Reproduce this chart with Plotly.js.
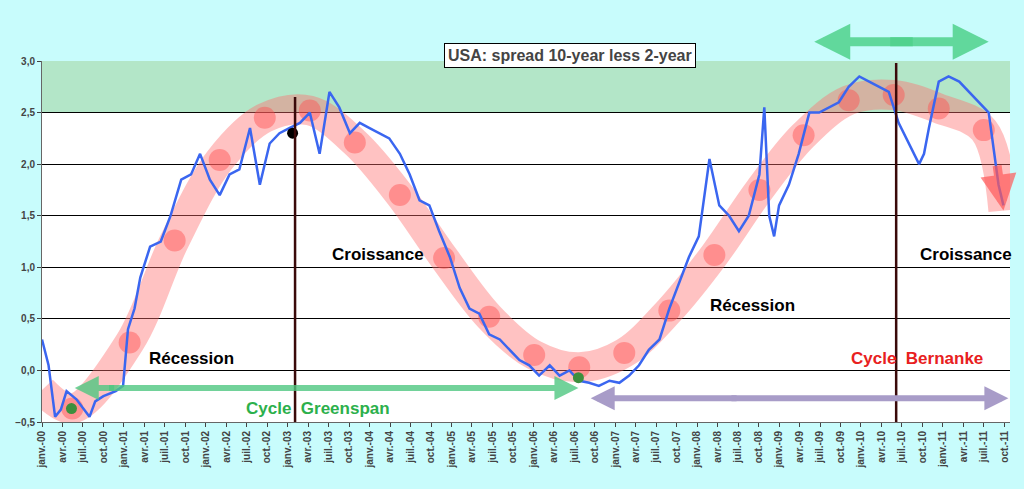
<!DOCTYPE html>
<html><head><meta charset="utf-8">
<script src="https://cdn.plot.ly/plotly-3.0.1.min.js"></script>
<style>body{margin:0;background:#c8fcfc}#chart{width:1024px;height:489px}</style>
</head><body><div id="chart"></div>
<script>
// spread 10y-2y (decimal year, %)
var spreadYear = [2000.0,2000.08,2000.16,2000.23,2000.3,2000.42,2000.58,2000.65,2000.75,2000.9,2000.99,2001.05,2001.13,2001.2,2001.32,2001.45,2001.57,2001.7,2001.82,2001.93,2002.05,2002.17,2002.29,2002.41,2002.54,2002.66,2002.78,2002.9,2003.02,2003.15,2003.27,2003.39,2003.51,2003.63,2003.76,2003.88,2004.0,2004.12,2004.24,2004.37,2004.49,2004.61,2004.73,2004.85,2004.98,2005.1,2005.22,2005.34,2005.46,2005.59,2005.71,2005.83,2005.95,2006.07,2006.2,2006.32,2006.44,2006.56,2006.68,2006.8,2006.93,2007.05,2007.17,2007.29,2007.41,2007.54,2007.66,2007.78,2007.9,2008.02,2008.15,2008.27,2008.39,2008.51,2008.63,2008.76,2008.82,2008.88,2008.94,2009.0,2009.12,2009.24,2009.37,2009.49,2009.61,2009.73,2009.85,2009.98,2010.1,2010.22,2010.34,2010.46,2010.59,2010.71,2010.77,2010.83,2010.95,2011.07,2011.2,2011.32,2011.44,2011.56,2011.68,2011.74];
var spreadVal  = [0.3,0.05,-0.45,-0.38,-0.2,-0.28,-0.45,-0.3,-0.25,-0.2,-0.15,0.4,0.6,0.9,1.2,1.25,1.5,1.85,1.9,2.1,1.85,1.7,1.9,1.95,2.35,1.8,2.2,2.3,2.35,2.4,2.5,2.1,2.7,2.55,2.3,2.4,2.35,2.3,2.25,2.1,1.9,1.65,1.6,1.35,1.1,0.8,0.6,0.55,0.35,0.3,0.2,0.1,0.05,-0.05,0.05,-0.05,0.0,-0.1,-0.12,-0.15,-0.1,-0.12,-0.05,0.05,0.2,0.3,0.6,0.85,1.1,1.3,2.05,1.6,1.5,1.35,1.5,1.9,2.55,1.5,1.3,1.6,1.8,2.1,2.5,2.5,2.55,2.6,2.75,2.85,2.8,2.75,2.7,2.4,2.2,2.0,2.1,2.35,2.8,2.85,2.8,2.7,2.6,2.5,1.8,1.6];
// trend cycle (pink band) and its dots
var cycleYear = [2000.0,2000.37,2001.07,2001.62,2002.17,2002.72,2003.27,2003.82,2004.37,2004.91,2005.46,2006.01,2006.56,2007.11,2007.66,2008.21,2008.76,2009.3,2009.85,2010.4,2010.95,2011.5,2011.74];
var cycleVal  = [-0.19,-0.37,0.27,1.26,2.04,2.45,2.52,2.21,1.7,1.09,0.52,0.15,0.03,0.17,0.58,1.12,1.75,2.28,2.62,2.67,2.54,2.33,1.55];
var months = ['janv.','avr.','juil.','oct.'];
var tickVals = [], tickText = [];
for (var y = 2000; y <= 2011; y++) for (var q = 0; q < 4; q++) {
  tickVals.push(y + q / 4);
  tickText.push(months[q] + '-' + String(y).slice(2));
}
var ft = 'Liberation Sans, Arial, sans-serif';

var traces = [
  {x: cycleYear, y: cycleVal, mode: 'lines', line: {color: 'rgba(255,110,110,0.42)', width: 30, shape: 'spline'}, hoverinfo: 'skip'},
  {x: cycleYear.slice(1, 22), y: cycleVal.slice(1, 22), mode: 'markers', marker: {color: 'rgba(255,80,80,0.45)', size: 22}},
  {x: spreadYear, y: spreadVal, mode: 'lines', line: {color: '#3a66f0', width: 2.5}},
  {x: [2003.06], y: [2.3], mode: 'markers', marker: {color: 'black', size: 11}},
  {x: [2000.36, 2006.55], y: [-0.37, -0.07], mode: 'markers', marker: {color: '#3d8f3d', size: 11}}
];

function lbl(x, y, t, c, s) {
  return {x: x, y: y, text: t, showarrow: false, font: {family: ft, size: s || 17, color: c || 'black', weight: 'bold'}};
}
function arr(x0, y0, x1, y1, c, w) {
  return {x: x1, y: y1, ax: x0, ay: y0, axref: 'x', ayref: 'y', text: '', showarrow: true,
    arrowhead: 2, arrowsize: 0.8, arrowwidth: w, arrowcolor: c};
}
function topArr(x1, dx) {
  return {x: x1, y: 1.053, yref: 'paper', ax: dx, ay: 0, text: '', showarrow: true,
    arrowhead: 2, arrowsize: 0.8, arrowwidth: 9, arrowcolor: 'rgba(80,210,140,0.85)'};
}
var anns = [
  {xref: 'paper', yref: 'paper', x: 0.545, y: 1.05, text: '<b>USA: spread 10-year less 2-year</b>', showarrow: false,
   bgcolor: 'white', bordercolor: 'black', borderwidth: 1, borderpad: 3, font: {family: ft, size: 16}},
  lbl(2001.83, 0.12, 'Récession'), lbl(2004.1, 1.12, 'Croissance'),
  lbl(2008.67, 0.63, 'Récession'), lbl(2011.28, 1.12, 'Croissance'),
  lbl(2010.68, 0.12, 'Cycle  Bernanke', '#e82020'), lbl(2003.37, -0.37, 'Cycle  Greenspan', '#2cb04c'),
  arr(2000.9, -0.17, 2000.4, -0.17, 'rgba(80,200,130,0.8)', 6),
  arr(2000.8, -0.17, 2006.55, -0.17, 'rgba(80,200,130,0.8)', 6),
  arr(2008.5, -0.27, 2006.7, -0.27, '#a89cc8', 6),
  arr(2008.4, -0.27, 2011.8, -0.27, '#a89cc8', 6),
  topArr(2009.43, 100), topArr(2011.56, -100),
  arr(2011.66, 2.0, 2011.74, 1.55, 'rgba(255,90,90,0.7)', 9)
];

var layout = {
  width: 1024, height: 489, showlegend: false,
  paper_bgcolor: '#c8fcfc', plot_bgcolor: 'white',
  margin: {l: 42, r: 14, t: 61, b: 67},
  separators: ',.',
  font: {family: ft},
  xaxis: {range: [2000, 2011.82], tickvals: tickVals, ticktext: tickText, tickangle: -90,
    tickfont: {size: 10, weight: 'bold'}, showgrid: false, zeroline: false, ticks: 'outside', ticklen: 4,
    showline: true, linecolor: '#666', mirror: false},
  yaxis: {range: [-0.5, 3.0], dtick: 0.5, tickformat: '.1f', tickfont: {size: 10, weight: 'bold'},
    gridcolor: 'black', gridwidth: 1, zeroline: false, showline: true, linecolor: '#666',
    ticks: 'outside', ticklen: 4},
  shapes: [
    {type: 'rect', xref: 'paper', x0: 0, x1: 1, y0: 2.5, y1: 3.0, fillcolor: '#b3e6c8', line: {width: 0}, layer: 'below'},
    {type: 'line', x0: 2003.09, x1: 2003.09, y0: -0.5, y1: 2.65, line: {color: '#3a0a0a', width: 2.5}},
    {type: 'line', x0: 2010.43, x1: 2010.43, y0: -0.5, y1: 2.98, line: {color: '#3a0a0a', width: 2.5}}
  ],
  annotations: anns
};
Plotly.newPlot('chart', traces, layout, {staticPlot: true});
</script></body></html>
